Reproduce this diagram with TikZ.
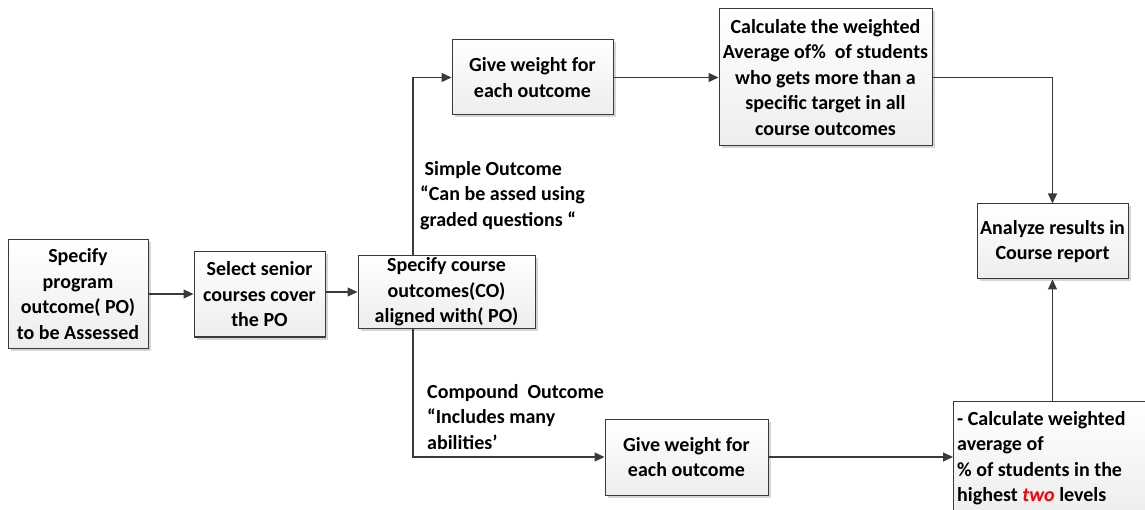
\documentclass[tikz,border=0pt]{standalone}
\usepackage{fontspec}
\setmainfont{Carlito}
\usetikzlibrary{arrows.meta,shadows}
\definecolor{linegray}{HTML}{3A3A3A}
\tikzset{
  box/.style={draw=linegray, line width=1pt, top color=white, bottom color=gray!14,
    align=center, inner sep=2pt, font=\bfseries\fontsize{20}{25.5}\selectfont,
    drop shadow={shadow xshift=2.5pt, shadow yshift=-2.5pt, fill=gray!40, opacity=0.8}},
  lbl/.style={align=left, inner sep=0pt, anchor=north west, font=\bfseries\fontsize{20}{25.5}\selectfont},
  conn/.style={draw=linegray, line width=1.2pt},
  arr/.style={conn, -{Triangle[length=10pt,width=9pt]}}
}
\begin{document}
\begin{tikzpicture}[x=1pt,y=-1pt]
\useasboundingbox (0,0) rectangle (1145,510);
\clip (0,0) rectangle (1145,510);
\node[box, minimum width=140pt, minimum height=108pt] (b1) at (78,294) {Specify\\program\\outcome( PO)\\to be Assessed};
\node[box, minimum width=131pt, minimum height=85pt] (b2) at (259.5,294.5) {Select senior\\courses cover\\the PO};
\node[box, minimum width=177pt, minimum height=68pt] (b3) at (446.5,292) {Specify course\\outcomes(CO)\\aligned with( PO)};
\node[box, minimum width=161pt, minimum height=75pt] (gw1) at (532.5,77.5) {Give weight for\\each outcome};
\node[box, minimum width=213pt, minimum height=137pt] (ct) at (825.5,77.5) {Calculate the weighted\\Average of\%\ \ of students\\who gets more than a\\specific target in all\\course outcomes};
\node[box, minimum width=151pt, minimum height=75pt] (an) at (1052.5,241.5) {Analyze results in\\Course report};
\node[box, minimum width=163pt, minimum height=76pt] (gw2) at (686.5,457) {Give weight for\\each outcome};
\node[box, minimum width=200pt, minimum height=115pt, anchor=north west] (bc) at (953,401) {};
\node[lbl] (bct) at (957,411) {- Calculate weighted\\average of\\\% of students in the\\highest \textcolor{red}{\itshape two} levels};
\node[lbl] (simple) at (420,161) {\ Simple Outcome\\“Can be assed using\\graded questions “};
\node[lbl] (compound) at (427,384) {Compound\ \ Outcome\\“Includes many\\abilities’};
\coordinate (sx) at (413,0);
\draw[arr] (b1.east) -- (b1.east -| b2.west);
\draw[arr] (b2.east |- b3.west) -- (b3.west);
\draw[arr] (b3.north -| sx) |- (gw1.west);
\draw[arr] (b3.south -| sx) |- (gw2.west);
\draw[arr] (gw1.east) -- (ct.west);
\draw[arr] (ct.east) -| (an.north);
\draw[arr] (gw2.east) -- (gw2.east -| bc.west);
\draw[arr] (an.south |- bc.north) -- (an.south);
\end{tikzpicture}
\end{document}
